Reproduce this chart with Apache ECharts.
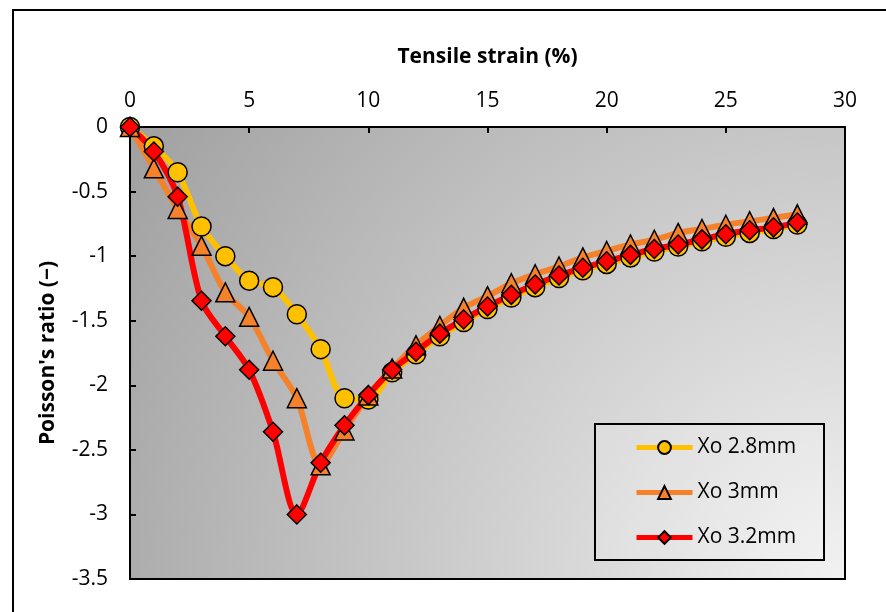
<!DOCTYPE html>
<html>
<head>
<meta charset="utf-8">
<script src="https://cdn.jsdelivr.net/npm/echarts@6/dist/echarts.min.js"></script>
<style>
html,body{margin:0;padding:0;background:#fff;}
#chart{width:886px;height:612px;}
</style>
</head>
<body>
<div id="chart"></div>
<script>
var strain = [0,1,2,3,4,5,6,7,8,9,10,11,12,13,14,15,16,17,18,19,20,21,22,23,24,25,26,27,28];
var xo28 = [0,-0.15,-0.35,-0.77,-1.0,-1.19,-1.24,-1.45,-1.72,-2.1,-2.11,-1.9,-1.76,-1.62,-1.51,-1.41,-1.32,-1.24,-1.17,-1.11,-1.06,-1.01,-0.965,-0.925,-0.885,-0.85,-0.82,-0.79,-0.755];
var xo30 = [0,-0.32,-0.635,-0.92,-1.28,-1.47,-1.81,-2.1,-2.62,-2.35,-2.08,-1.87,-1.69,-1.54,-1.4,-1.31,-1.21,-1.14,-1.08,-1.01,-0.96,-0.91,-0.873,-0.82,-0.79,-0.757,-0.73,-0.705,-0.676];
var xo32 = [0,-0.19,-0.54,-1.345,-1.62,-1.88,-2.36,-3.0,-2.6,-2.31,-2.076,-1.88,-1.74,-1.6,-1.49,-1.39,-1.3,-1.22,-1.15,-1.09,-1.04,-0.99,-0.945,-0.91,-0.87,-0.83,-0.8,-0.777,-0.74];
var seriesNames = ['Xo 2.8mm','Xo 3mm','Xo 3.2mm'];
var xTitle = 'Tensile strain (%)';
var yTitle = "Poisson's ratio (\u2212)";

function pairs(ys){ return strain.map(function(x,i){ return [x, ys[i]]; }); }

var FONT = 'Open Sans';
var chart = echarts.init(document.getElementById('chart'), null, {renderer:'canvas'});
var common = function(name, data, color, symbol, size){
  return {
    name: name, type: 'line', data: pairs(data), smooth: 0.3,
    symbol: symbol, symbolSize: size, showSymbol: true,
    lineStyle: {color: color, width: 6},
    itemStyle: {color: color, borderColor: '#000', borderWidth: 1.5},
    emphasis: {disabled: true}, animation: false
  };
};
chart.setOption({
  animation: false,
  textStyle: {fontFamily: FONT},
  grid: {
    left: 130, top: 127, right: 41, bottom: 33, show: true,
    borderColor: '#000', borderWidth: 2,
    backgroundColor: {
      type: 'radial', x: 1, y: 1, r: 1.87,
      colorStops: [{offset: 0, color: '#f2f2f2'}, {offset: 1, color: '#a0a0a0'}]
    }
  },
  xAxis: {
    type: 'value', position: 'top', min: 0, max: 30, interval: 5,
    name: xTitle, nameLocation: 'middle', nameGap: 59,
    nameTextStyle: {fontFamily: FONT, fontWeight: 'bold', fontSize: 21, color: '#000'},
    axisLine: {show: true, onZero: false, lineStyle: {color: '#000', width: 2}},
    axisTick: {show: true, inside: true, length: 6, lineStyle: {color: '#000', width: 2}},
    axisLabel: {fontFamily: FONT, fontSize: 21, color: '#000', margin: 15},
    splitLine: {show: false}
  },
  yAxis: {
    type: 'value', min: -3.5, max: 0, interval: 0.5,
    name: yTitle, nameLocation: 'middle', nameGap: 71, nameRotate: 90,
    nameTextStyle: {fontFamily: FONT, fontWeight: 'bold', fontSize: 21, color: '#000'},
    axisLine: {show: true, onZero: false, lineStyle: {color: '#000', width: 2}},
    axisTick: {show: true, inside: true, length: 6, lineStyle: {color: '#000', width: 2}},
    axisLabel: {fontFamily: FONT, fontSize: 21, color: '#000', margin: 22},
    splitLine: {show: false}
  },
  legend: {
    orient: 'vertical', left: 629, top: 432,
    itemWidth: 56, itemHeight: 16, itemGap: 24,
    lineStyle: {width: 5},
    textStyle: {fontFamily: FONT, fontSize: 21, color: '#000'},
    data: seriesNames
  },
  graphic: [
    {type: 'rect', shape: {x: 13, y: 10, width: 1000, height: 1000}, style: {fill: 'none', stroke: '#000', lineWidth: 2}, z: 100},
    {type: 'rect', shape: {x: 595, y: 424, width: 229, height: 136}, style: {fill: 'rgba(255,255,255,0.15)', stroke: '#000', lineWidth: 2}, z: 1}
  ],
  series: [
    common(seriesNames[0], xo28, '#FFC000', 'circle', 19),
    common(seriesNames[1], xo30, '#F5822A', 'triangle', 19),
    common(seriesNames[2], xo32, '#FF0000', 'diamond', 19)
  ]
});
</script>
</body>
</html>
